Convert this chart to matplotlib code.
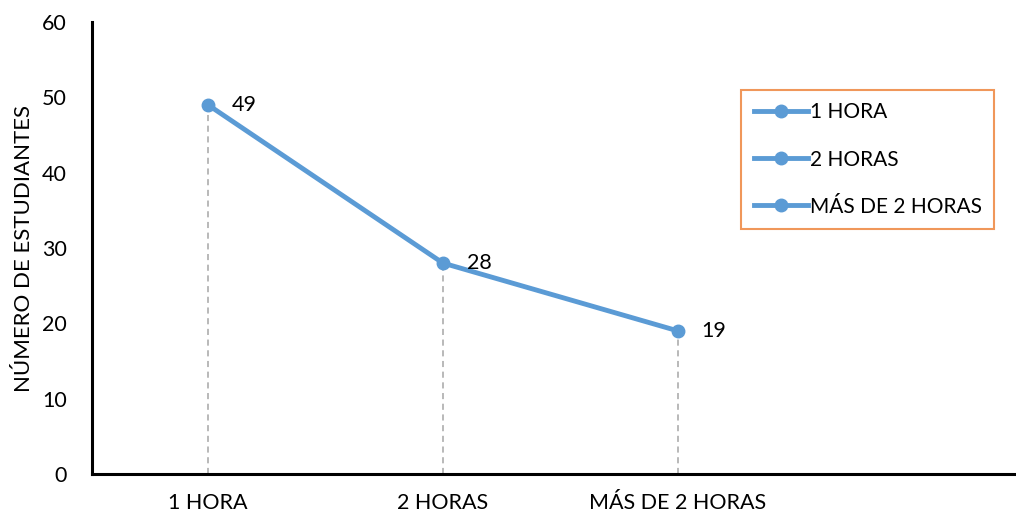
import matplotlib
matplotlib.use("Agg")
import matplotlib.pyplot as plt

categories = ["1 HORA", "2 HORAS", "MÁS DE 2 HORAS"]
values = [49, 28, 19]
yticks = [0, 10, 20, 30, 40, 50, 60]
ylabel = "NÚMERO DE ESTUDIANTES"

plt.rcParams['font.family'] = ['Lato', 'DejaVu Sans']
color = "#5B9BD5"
fs = 15.5

fig = plt.figure(figsize=(10.16, 5.16), dpi=100)
ax = fig.add_axes([92/1016, 1-474/516, 1-92/1016, (474-22)/516])

xs = list(range(len(categories)))
line, = ax.plot(xs, values, color=color, lw=3.5, marker='o', markersize=9,
                solid_capstyle='round', zorder=3)
for x, v in zip(xs, values):
    ax.plot([x, x], [0, v], color="#A5A5A5", lw=1.1, ls=(0, (4, 3)), zorder=2)
    ax.annotate(str(v), (x, v), xytext=(17, 0), textcoords='offset points',
                va='center', ha='left', fontsize=fs)

ax.set_xlim(-0.494, 3.44)
ax.set_ylim(0, 60)
ax.set_yticks(yticks)
ax.set_xticks(xs)
ax.set_xticklabels(categories)
ax.tick_params(length=0, labelsize=fs, pad=14)
ax.tick_params(axis='y', pad=18)
ax.set_ylabel(ylabel, fontsize=16, labelpad=6)
for s in ['top', 'right']:
    ax.spines[s].set_visible(False)
ax.spines['left'].set_linewidth(2.2)
ax.spines['bottom'].set_linewidth(2.2)

handles = [plt.Line2D([], [], color=color, lw=3.5, marker='o', markersize=9) for _ in categories]
leg = ax.legend(handles, categories, loc='upper left',
                bbox_to_anchor=((741-92)/924, 1-(90-22)/452),
                frameon=True, fancybox=False, fontsize=15, handlelength=2.6,
                handletextpad=0.1, labelspacing=1.3, borderpad=0.6, borderaxespad=0)
leg.get_frame().set_edgecolor("#ED7D31")
leg.get_frame().set_linewidth(1.5)

fig.savefig("out.png", dpi=100)
